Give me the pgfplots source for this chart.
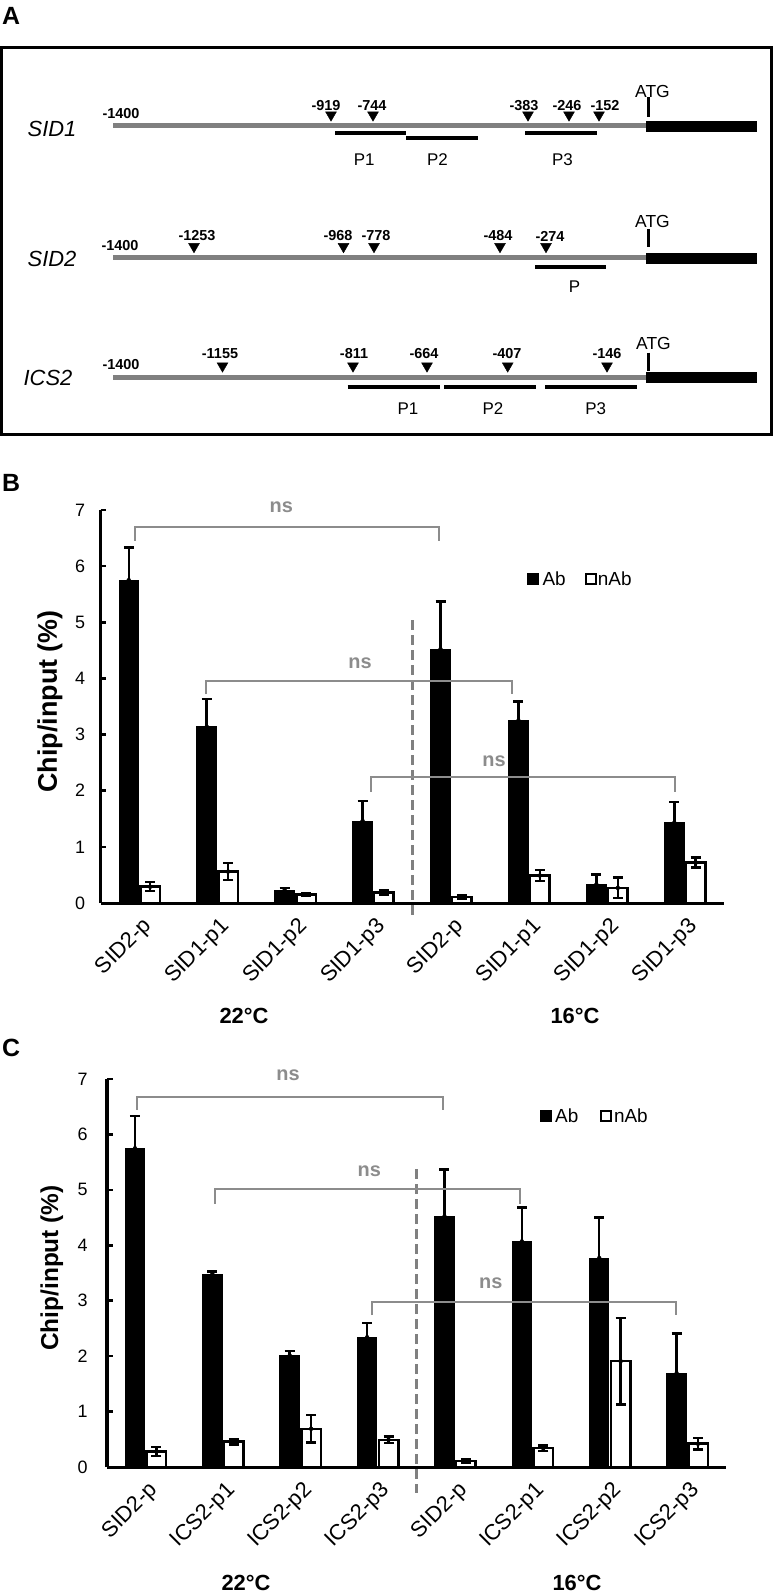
\documentclass[border=0pt]{standalone}
\usepackage{pgfplots}
\pgfplotsset{compat=1.18}
\usepackage{pgfplotstable}
\usepackage{fontspec}
\setmainfont{Liberation Sans}
\definecolor{lgrey}{RGB}{128,128,128}
\definecolor{bgrey}{RGB}{140,140,140}
\newcommand{\fs}[1]{\fontsize{#1}{#1}\selectfont}

\pgfplotstableread{
x ab abe nab nabe
0 5.75 0.58 0.29 0.08
1 3.14 0.49 0.56 0.15
2 0.23 0.04 0.15 0.02
3 1.46 0.36 0.19 0.04
4 4.52 0.85 0.11 0.03
5 3.25 0.34 0.49 0.10
6 0.33 0.18 0.27 0.18
7 1.43 0.37 0.72 0.09
}\dataB

\pgfplotstableread{
x ab abe nab nabe
0 5.75 0.58 0.28 0.08
1 3.48 0.05 0.46 0.05
2 2.01 0.08 0.69 0.25
3 2.34 0.26 0.49 0.06
4 4.52 0.85 0.11 0.03
5 4.07 0.61 0.34 0.05
6 3.77 0.73 1.91 0.78
7 1.69 0.72 0.42 0.10
}\dataC

\pgfplotsset{
  barpanel/.style={
    scale only axis,
    xmin=-0.5, xmax=7.5, ymin=0, ymax=7,
    axis lines=left,
    axis line style={-, line width=3bp, black},
    xtick={0,...,7}, ytick={0,...,7},
    x tick style={draw=none},
    y tick style={line width=2.5bp, black},
    tick align=inside, major tick length=6bp,
    clip=false,
    /pgf/number format/assume math mode=true,
    yticklabel style={font=\fs{18}},
    xticklabel style={xshift=9bp, yshift=-20bp, rotate=45, anchor=east, inner sep=0pt, font=\fs{22}},
  },
  abbar/.style={ybar, bar width=19.5bp, bar shift=-10.7bp, fill=black, draw=black, line width=1bp},
  nabbar/.style={ybar, bar width=19.5bp, bar shift=10.7bp, fill=white, draw=black, line width=2.5bp},
  errs/.style={only marks, mark=none,
    error bars/.cd, y dir=both, y explicit, error mark=|,
    error bar style={line width=2.5bp, black, solid},
    error mark options={black, line width=2.5bp, mark size=5bp}},
  brk/.style={bgrey, line width=2bp},
  dsh/.style={lgrey, line width=2.5bp, dash pattern=on 10bp off 5bp},
}

\begin{document}
\begin{tikzpicture}
\useasboundingbox (0,0) rectangle (773bp,-1595bp);

% ---------------- Panel A ----------------
\node[font=\bfseries\fs{25}] at (11bp,-16bp) {A};
\begin{axis}[at={(0,0)}, anchor=north west, scale only axis,
  width=773bp, height=450bp, xmin=0, xmax=773, ymin=0, ymax=450,
  y dir=reverse, hide axis, clip=false]
% frame
\addplot[black, line width=3bp, line cap=rect, line join=miter] coordinates {(1.5,47)(771.5,47)(771.5,434)(1.5,434)(1.5,47)};
% SID1
\addplot[lgrey, line width=5bp] coordinates {(113,125.8)(646,125.8)};
\addplot[black, line width=11bp] coordinates {(646,126.5)(757,126.5)};
\addplot[black, line width=2.5bp] coordinates {(648.5,97)(648.5,117)};
\addplot[only marks, mark=triangle*, mark size=6.3bp, mark options={rotate=180, fill=black, draw=black}] coordinates {(331,114.9)(373,114.9)(528,114.9)(569,114.9)(599,114.9)};
\addplot[black, line width=4bp] coordinates {(335,133.3)(406,133.3)};
\addplot[black, line width=4bp] coordinates {(406,137.7)(478,137.7)};
\addplot[black, line width=4bp] coordinates {(525,133.3)(597,133.3)};
\node[font=\itshape\fs{22}] at (axis cs:52,129) {SID1};
\node[font=\bfseries\fs{14.5}] at (axis cs:121,114) {-1400};
\node[font=\bfseries\fs{14.5}] at (axis cs:326,106) {-919};
\node[font=\bfseries\fs{14.5}] at (axis cs:372,106) {-744};
\node[font=\bfseries\fs{14.5}] at (axis cs:524,106) {-383};
\node[font=\bfseries\fs{14.5}] at (axis cs:567,106) {-246};
\node[font=\bfseries\fs{14.5}] at (axis cs:605,106) {-152};
\node[font=\fs{17.5}] at (axis cs:652.5,91) {ATG};
\node[font=\fs{17}] at (axis cs:364.3,160) {P1};
\node[font=\fs{17}] at (axis cs:437.5,160) {P2};
\node[font=\fs{17}] at (axis cs:562.5,160) {P3};
% SID2
\addplot[lgrey, line width=5bp] coordinates {(113,257.7)(646,257.7)};
\addplot[black, line width=11bp] coordinates {(646,258)(757,258)};
\addplot[black, line width=2.5bp] coordinates {(648.5,229.3)(648.5,247.3)};
\addplot[only marks, mark=triangle*, mark size=6.3bp, mark options={rotate=180, fill=black, draw=black}] coordinates {(194,246.5)(343.5,246.5)(374,246.5)(500,246.5)(546,246.5)};
\addplot[black, line width=4bp] coordinates {(535,266.7)(606,266.7)};
\node[font=\itshape\fs{22}] at (axis cs:52,259) {SID2};
\node[font=\bfseries\fs{14.5}] at (axis cs:120,246) {-1400};
\node[font=\bfseries\fs{14.5}] at (axis cs:197,236) {-1253};
\node[font=\bfseries\fs{14.5}] at (axis cs:338,236) {-968};
\node[font=\bfseries\fs{14.5}] at (axis cs:376,236) {-778};
\node[font=\bfseries\fs{14.5}] at (axis cs:498,236) {-484};
\node[font=\bfseries\fs{14.5}] at (axis cs:550,236) {-274};
\node[font=\fs{17.5}] at (axis cs:652.5,221) {ATG};
\node[font=\fs{17}] at (axis cs:574.5,286.7) {P};
% ICS2
\addplot[lgrey, line width=5bp] coordinates {(113,377.7)(646,377.7)};
\addplot[black, line width=11bp] coordinates {(646,377.7)(757,377.7)};
\addplot[black, line width=2.5bp] coordinates {(648.5,352.7)(648.5,370.7)};
\addplot[only marks, mark=triangle*, mark size=6.3bp, mark options={rotate=180, fill=black, draw=black}] coordinates {(222.5,365.9)(353,365.9)(427,365.9)(507.7,365.9)(607,365.9)};
\addplot[black, line width=4bp] coordinates {(347.5,387)(439.5,387)};
\addplot[black, line width=4bp] coordinates {(444,387)(536,387)};
\addplot[black, line width=4bp] coordinates {(545,387)(637,387)};
\node[font=\itshape\fs{22}] at (axis cs:48,377.5) {ICS2};
\node[font=\bfseries\fs{14.5}] at (axis cs:121,365) {-1400};
\node[font=\bfseries\fs{14.5}] at (axis cs:220,354) {-1155};
\node[font=\bfseries\fs{14.5}] at (axis cs:354,354) {-811};
\node[font=\bfseries\fs{14.5}] at (axis cs:424,354) {-664};
\node[font=\bfseries\fs{14.5}] at (axis cs:507,354) {-407};
\node[font=\bfseries\fs{14.5}] at (axis cs:607,354) {-146};
\node[font=\fs{17.5}] at (axis cs:653.5,343) {ATG};
\node[font=\fs{17}] at (axis cs:408,408.8) {P1};
\node[font=\fs{17}] at (axis cs:493,408.8) {P2};
\node[font=\fs{17}] at (axis cs:595.7,408.8) {P3};
\end{axis}

% ---------------- Panel B ----------------
\node[font=\bfseries\fs{25}] at (11bp,-483bp) {B};
\begin{axis}[barpanel, at={(100.5bp,-903bp)}, anchor=south west,
  width=623.5bp, height=393bp,
  yticklabel style={xshift=-12bp},
  xticklabels={SID2-p,SID1-p1,SID1-p2,SID1-p3,SID2-p,SID1-p1,SID1-p2,SID1-p3},
  ylabel={Chip/input (\%)},
  ylabel style={font=\bfseries\fs{27}, at={(rel axis cs:0,0.513)}, anchor=center, yshift=50.5bp}]
\addplot[abbar] table[x=x, y=ab] {\dataB};
\addplot[nabbar] table[x=x, y=nab] {\dataB};
\addplot[errs] table[x expr=\thisrow{x}-0.1373, y=ab, y error=abe] {\dataB};
\addplot[errs] table[x expr=\thisrow{x}+0.1373, y=nab, y error=nabe] {\dataB};
\addplot[dsh] coordinates {(3.5,5.04)(3.5,-0.22)};
\addplot[brk] coordinates {(-0.06,6.45)(-0.06,6.70)(3.84,6.70)(3.84,6.45)};
\addplot[brk] coordinates {(0.86,3.72)(0.86,3.96)(4.775,3.96)(4.775,3.72)};
\addplot[brk] coordinates {(2.967,1.98)(2.967,2.25)(6.867,2.25)(6.867,1.98)};
\node[text=bgrey, font=\bfseries\fs{20}] at (axis cs:1.82,7.05) {ns};
\node[text=bgrey, font=\bfseries\fs{20}] at (axis cs:2.83,4.27) {ns};
\node[text=bgrey, font=\bfseries\fs{20}] at (axis cs:4.55,2.53) {ns};
\addplot[only marks, mark=square*, mark size=5.5bp, mark options={fill=black, draw=black}] coordinates {(5.05,5.78)};
\addplot[only marks, mark=square*, mark size=5bp, mark options={fill=white, draw=black, line width=2bp}] coordinates {(5.79,5.78)};
\node[font=\fs{19}, anchor=west, inner sep=0pt] at (axis cs:5.17,5.78) {Ab};
\node[font=\fs{19}, anchor=west, inner sep=0pt] at (axis cs:5.88,5.78) {nAb};
\end{axis}
\node[font=\bfseries\fs{22}] at (244bp,-1016bp) {22°C};
\node[font=\bfseries\fs{22}] at (575bp,-1016bp) {16°C};

% ---------------- Panel C ----------------
\node[font=\bfseries\fs{25}] at (11bp,-1048bp) {C};
\begin{axis}[barpanel, at={(107bp,-1467bp)}, anchor=south west,
  width=619bp, height=388bp,
  yticklabel style={xshift=-16bp},
  xticklabels={SID2-p,ICS2-p1,ICS2-p2,ICS2-p3,SID2-p,ICS2-p1,ICS2-p2,ICS2-p3},
  ylabel={Chip/input (\%)},
  ylabel style={font=\bfseries\fs{24.5}, at={(rel axis cs:0,0.513)}, anchor=center, yshift=55.3bp}]
\addplot[abbar] table[x=x, y=ab] {\dataC};
\addplot[nabbar] table[x=x, y=nab] {\dataC};
\addplot[errs] table[x expr=\thisrow{x}-0.1383, y=ab, y error=abe] {\dataC};
\addplot[errs] table[x expr=\thisrow{x}+0.1383, y=nab, y error=nabe] {\dataC};
\addplot[dsh] coordinates {(3.5,5.37)(3.5,-0.46)};
\addplot[brk] coordinates {(-0.107,6.45)(-0.107,6.67)(3.846,6.67)(3.846,6.45)};
\addplot[brk] coordinates {(0.902,4.75)(0.902,5.01)(4.84,5.01)(4.84,4.75)};
\addplot[brk] coordinates {(2.92,2.74)(2.92,2.98)(6.854,2.98)(6.854,2.74)};
\node[text=bgrey, font=\bfseries\fs{20}] at (axis cs:1.84,7.07) {ns};
\node[text=bgrey, font=\bfseries\fs{20}] at (axis cs:2.89,5.33) {ns};
\node[text=bgrey, font=\bfseries\fs{20}] at (axis cs:4.46,3.32) {ns};
\addplot[only marks, mark=square*, mark size=5.5bp, mark options={fill=black, draw=black}] coordinates {(5.17,6.34)};
\addplot[only marks, mark=square*, mark size=5bp, mark options={fill=white, draw=black, line width=2bp}] coordinates {(5.95,6.34)};
\node[font=\fs{19}, anchor=west, inner sep=0pt] at (axis cs:5.29,6.34) {Ab};
\node[font=\fs{19}, anchor=west, inner sep=0pt] at (axis cs:6.05,6.34) {nAb};
\end{axis}
\node[font=\bfseries\fs{22}] at (246bp,-1583bp) {22°C};
\node[font=\bfseries\fs{22}] at (577bp,-1583bp) {16°C};
\end{tikzpicture}
\end{document}
